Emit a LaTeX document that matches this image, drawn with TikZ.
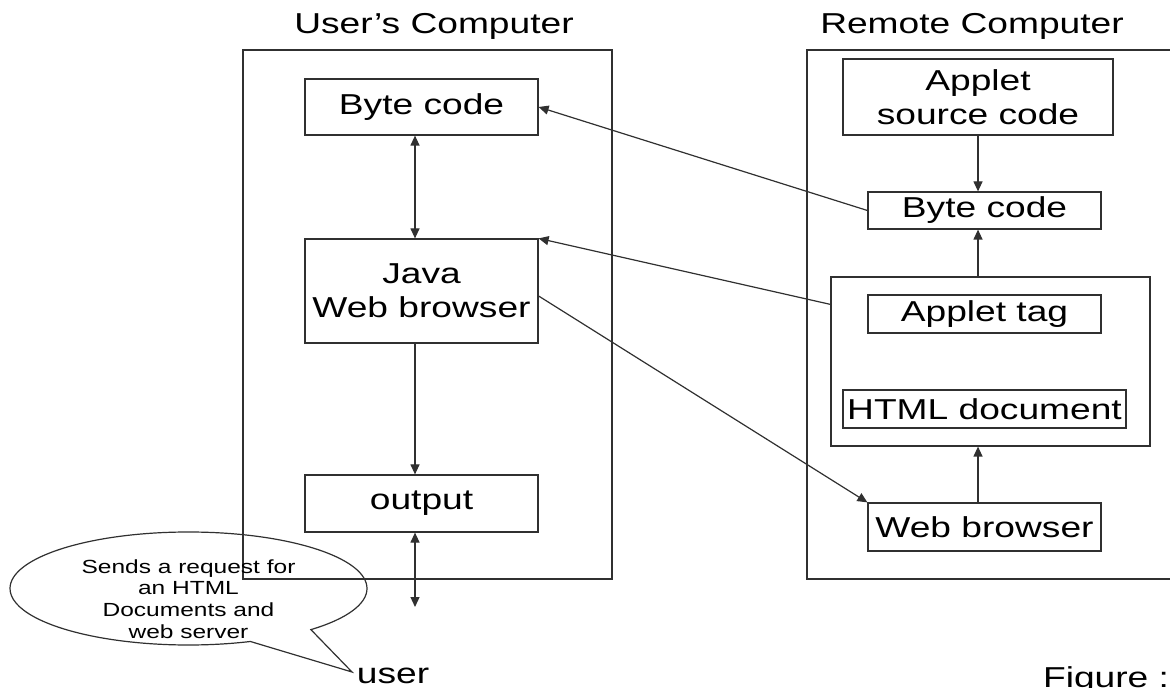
\documentclass[tikz,border=0pt]{standalone}
\usepackage{fontspec}
\setmainfont{Liberation Sans}[FakeStretch=1.29]
\usepackage{tikz}
\usetikzlibrary{calc,arrows.meta,shapes.callouts}
\definecolor{ink}{HTML}{303030}
\tikzset{
  frame/.style={draw=ink, line width=0.6pt, inner sep=0pt},
  box/.style={draw=ink, line width=0.6pt, inner sep=0pt, align=center, font=\fontsize{14.4}{16.8}\selectfont},
  link/.style={draw=ink, line width=0.6pt, -{Triangle[length=5pt,width=4.5pt]}},
  both/.style={link, {Triangle[length=5pt,width=4.5pt]}-{Triangle[length=5pt,width=4.5pt]}},
  head/.style={font=\fontsize{14.4}{16.8}\selectfont},
  note/.style={font=\fontsize{9.5}{10.9}\selectfont, align=center, inner sep=0pt},
}
\begin{document}
\begin{tikzpicture}[x=0.5pt,y=-0.5pt]
  \useasboundingbox (0,0) rectangle (1170,688);
  \coordinate (ux) at (415,0);
  \coordinate (rx) at (978,0);
  % user's computer
  \node[frame, minimum width=184.5pt, minimum height=264.5pt] (ucomp) at (427.5,314.5) {};
  \node[head] (utitle) at (434,26) {User’s Computer};
  \node[box, minimum width=116.5pt, minimum height=28pt] (ubyte) at (421.5,107) {Byte code};
  \node[box, minimum width=116.5pt, minimum height=52pt] (ujava) at (421.5,291) {Java\\Web browser};
  \node[box, minimum width=116.5pt, minimum height=28.5pt] (uout) at (421.5,503.5) {output};
  \coordinate (uend) at (415,607);
  \draw[both] (ux |- ubyte.south) -- (ux |- ujava.north);
  \draw[link] (ux |- ujava.south) -- (ux |- uout.north);
  \draw[both] (ux |- uout.south) -- (uend);
  % remote computer
  \node[frame, minimum width=196.5pt, minimum height=264.5pt] (rcomp) at (1003.5,314.5) {};
  \node[head] (rtitle) at (972,26) {Remote Computer};
  \node[box, minimum width=135pt, minimum height=38pt] (rsrc) at (978,97) {Applet\\source code};
  \node[box, minimum width=116.5pt, minimum height=18.5pt] (rbyte) at (984.5,210.5) {Byte code};
  \node[frame, minimum width=159.5pt, minimum height=84.5pt] (rhtml) at (990.5,361.5) {};
  \node[box, minimum width=116.5pt, minimum height=19pt] (rtag) at (984.5,314) {Applet tag};
  \node[box, minimum width=141.5pt, minimum height=19pt] (rdoc) at (984.5,409) {HTML document};
  \node[box, minimum width=116.5pt, minimum height=24pt] (rweb) at (984.5,527) {Web browser};
  \draw[link] (rx |- rsrc.south) -- (rx |- rbyte.north);
  \draw[link] (rx |- rhtml.north) -- (rx |- rbyte.south);
  \draw[link] (rx |- rweb.north) -- (rx |- rhtml.south);
  % between the two
  \coordinate (rtap) at ($(rhtml.north west)+(0,28)$);
  \draw[link] (rbyte.west) -- (ubyte.east);
  \draw[link] (rtap) -- (ujava.north east);
  \draw[link] ($(ujava.east)+(0,5)$) -- (rweb.north west);
  % user and request
  \node[head, anchor=base] (user) at (393,683) {user};
  \coordinate (tip) at (352,672);
  \node[draw=ink, line width=0.6pt, ellipse callout, inner sep=0pt, minimum width=178.5pt, minimum height=56.5pt,
        callout absolute pointer={(tip)}, callout pointer arc=23] (bubble) at (188.5,588.5) {};
  \node[note] (req) at (188.5,599) {Sends a request for\\an HTML\\Documents and\\web server};
  \node[head, anchor=base west] (fig) at (1036,687) {Figure :2};
\end{tikzpicture}
\end{document}
